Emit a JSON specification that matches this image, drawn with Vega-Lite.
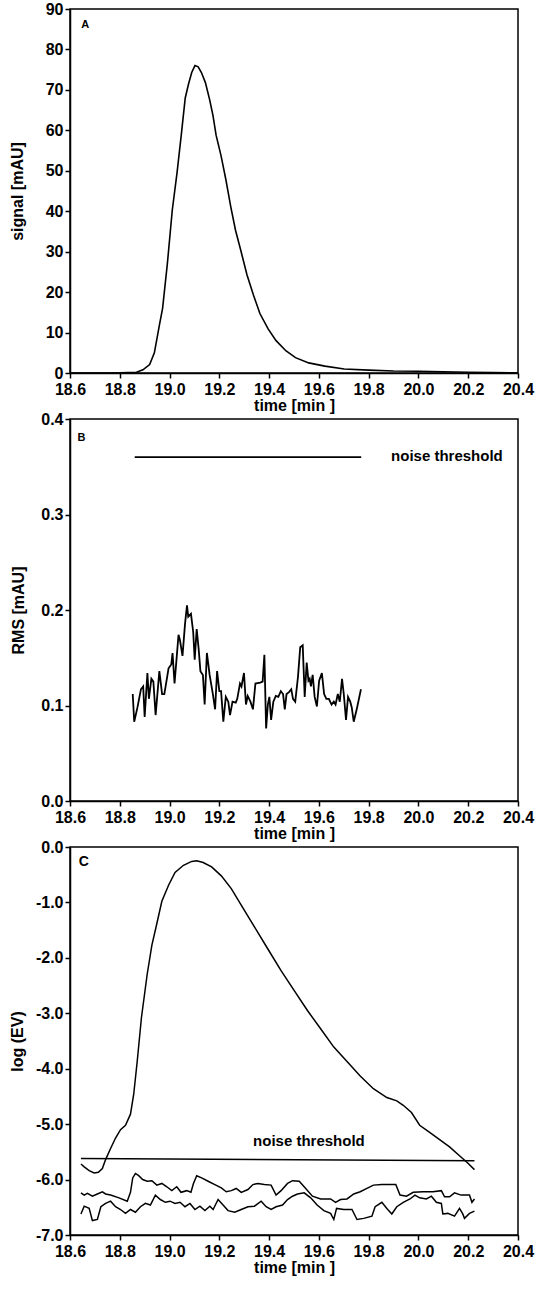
{
  "$schema": "https://vega.github.io/schema/vega-lite/v6.json",
  "padding": {"left": 8, "top": 0, "right": 2, "bottom": 2},
  "background": "white",
  "spacing": -4,
  "config": {
    "view": {"stroke": "black", "strokeWidth": 1.5},
    "axis": {
      "grid": false, "domainColor": "black", "domainWidth": 1.5, "tickColor": "black", "tickWidth": 1.5, "tickSize": 5,
      "labelColor": "black", "labelFont": "Liberation Sans", "labelFontSize": 16, "labelFontWeight": "bold",
      "labelOverlap": false, "labelFlush": false, "labelBound": false,
      "titleColor": "black", "titleFont": "Liberation Sans", "titleFontSize": 16, "titleFontWeight": "bold"
    },
    "axisX": {"labelPadding": 3, "titlePadding": 0},
    "axisY": {"labelPadding": 2},
    "line": {"color": "black", "strokeWidth": 1.5},
    "text": {"font": "Liberation Sans", "fontWeight": "bold", "color": "black"}
  },
  "datasets": {
    "chromA": [
      {"t": 18.6, "signal": 0}, {"t": 18.7, "signal": 0}, {"t": 18.8, "signal": 0.05}, {"t": 18.867, "signal": 0.2},
      {"t": 18.893, "signal": 0.8}, {"t": 18.92, "signal": 2.1}, {"t": 18.939, "signal": 5.0}, {"t": 18.959, "signal": 11.8},
      {"t": 18.972, "signal": 16.0}, {"t": 18.991, "signal": 26.9}, {"t": 19.011, "signal": 40.3}, {"t": 19.03, "signal": 49.5},
      {"t": 19.047, "signal": 58.8}, {"t": 19.063, "signal": 68.0}, {"t": 19.076, "signal": 71.4}, {"t": 19.089, "signal": 74.3},
      {"t": 19.102, "signal": 76.0}, {"t": 19.115, "signal": 75.7}, {"t": 19.128, "signal": 74.3}, {"t": 19.144, "signal": 71.8},
      {"t": 19.161, "signal": 67.6}, {"t": 19.174, "signal": 63.8}, {"t": 19.187, "signal": 58.8}, {"t": 19.207, "signal": 53.7},
      {"t": 19.226, "signal": 47.9}, {"t": 19.246, "signal": 41.1}, {"t": 19.265, "signal": 35.3}, {"t": 19.285, "signal": 30.6},
      {"t": 19.311, "signal": 24.3}, {"t": 19.337, "signal": 19.3}, {"t": 19.363, "signal": 14.7}, {"t": 19.396, "signal": 10.9},
      {"t": 19.428, "signal": 8.0}, {"t": 19.467, "signal": 5.5}, {"t": 19.506, "signal": 3.8}, {"t": 19.559, "signal": 2.5},
      {"t": 19.624, "signal": 1.7}, {"t": 19.702, "signal": 1.0}, {"t": 19.8, "signal": 0.7}, {"t": 19.9, "signal": 0.5},
      {"t": 20.0, "signal": 0.45}, {"t": 20.1, "signal": 0.3}, {"t": 20.2, "signal": 0.2}, {"t": 20.3, "signal": 0.1}, {"t": 20.4, "signal": 0.05}
    ],
    "rmsB": [
      {"t": 18.852, "v": 0.112, "s": "rms"}, {"t": 18.858, "v": 0.083, "s": "rms"}, {"t": 18.871, "v": 0.098, "s": "rms"}, {"t": 18.885, "v": 0.117, "s": "rms"},
      {"t": 18.894, "v": 0.120, "s": "rms"}, {"t": 18.900, "v": 0.088, "s": "rms"}, {"t": 18.911, "v": 0.134, "s": "rms"}, {"t": 18.917, "v": 0.107, "s": "rms"},
      {"t": 18.927, "v": 0.128, "s": "rms"}, {"t": 18.935, "v": 0.125, "s": "rms"}, {"t": 18.944, "v": 0.090, "s": "rms"}, {"t": 18.959, "v": 0.136, "s": "rms"},
      {"t": 18.970, "v": 0.112, "s": "rms"}, {"t": 18.979, "v": 0.112, "s": "rms"}, {"t": 18.996, "v": 0.139, "s": "rms"}, {"t": 19.007, "v": 0.143, "s": "rms"},
      {"t": 19.012, "v": 0.155, "s": "rms"}, {"t": 19.020, "v": 0.123, "s": "rms"}, {"t": 19.036, "v": 0.174, "s": "rms"}, {"t": 19.042, "v": 0.168, "s": "rms"},
      {"t": 19.052, "v": 0.152, "s": "rms"}, {"t": 19.062, "v": 0.185, "s": "rms"}, {"t": 19.070, "v": 0.205, "s": "rms"}, {"t": 19.075, "v": 0.193, "s": "rms"},
      {"t": 19.086, "v": 0.196, "s": "rms"}, {"t": 19.095, "v": 0.177, "s": "rms"}, {"t": 19.101, "v": 0.148, "s": "rms"}, {"t": 19.109, "v": 0.180, "s": "rms"},
      {"t": 19.117, "v": 0.159, "s": "rms"}, {"t": 19.124, "v": 0.136, "s": "rms"}, {"t": 19.134, "v": 0.132, "s": "rms"}, {"t": 19.141, "v": 0.101, "s": "rms"},
      {"t": 19.150, "v": 0.155, "s": "rms"}, {"t": 19.161, "v": 0.132, "s": "rms"}, {"t": 19.174, "v": 0.112, "s": "rms"}, {"t": 19.183, "v": 0.096, "s": "rms"},
      {"t": 19.191, "v": 0.136, "s": "rms"}, {"t": 19.200, "v": 0.115, "s": "rms"}, {"t": 19.207, "v": 0.115, "s": "rms"}, {"t": 19.216, "v": 0.083, "s": "rms"},
      {"t": 19.226, "v": 0.109, "s": "rms"}, {"t": 19.236, "v": 0.104, "s": "rms"}, {"t": 19.243, "v": 0.090, "s": "rms"}, {"t": 19.253, "v": 0.104, "s": "rms"},
      {"t": 19.266, "v": 0.103, "s": "rms"}, {"t": 19.272, "v": 0.107, "s": "rms"}, {"t": 19.283, "v": 0.123, "s": "rms"}, {"t": 19.289, "v": 0.120, "s": "rms"},
      {"t": 19.299, "v": 0.134, "s": "rms"}, {"t": 19.307, "v": 0.101, "s": "rms"}, {"t": 19.314, "v": 0.110, "s": "rms"}, {"t": 19.325, "v": 0.104, "s": "rms"},
      {"t": 19.335, "v": 0.096, "s": "rms"}, {"t": 19.345, "v": 0.123, "s": "rms"}, {"t": 19.364, "v": 0.124, "s": "rms"}, {"t": 19.374, "v": 0.125, "s": "rms"},
      {"t": 19.381, "v": 0.153, "s": "rms"}, {"t": 19.388, "v": 0.076, "s": "rms"}, {"t": 19.395, "v": 0.101, "s": "rms"}, {"t": 19.401, "v": 0.109, "s": "rms"},
      {"t": 19.408, "v": 0.085, "s": "rms"}, {"t": 19.417, "v": 0.104, "s": "rms"}, {"t": 19.427, "v": 0.110, "s": "rms"}, {"t": 19.437, "v": 0.109, "s": "rms"},
      {"t": 19.447, "v": 0.115, "s": "rms"}, {"t": 19.456, "v": 0.112, "s": "rms"}, {"t": 19.463, "v": 0.096, "s": "rms"}, {"t": 19.470, "v": 0.112, "s": "rms"},
      {"t": 19.480, "v": 0.114, "s": "rms"}, {"t": 19.489, "v": 0.117, "s": "rms"}, {"t": 19.496, "v": 0.107, "s": "rms"}, {"t": 19.505, "v": 0.104, "s": "rms"},
      {"t": 19.516, "v": 0.130, "s": "rms"}, {"t": 19.525, "v": 0.161, "s": "rms"}, {"t": 19.535, "v": 0.163, "s": "rms"}, {"t": 19.543, "v": 0.109, "s": "rms"},
      {"t": 19.551, "v": 0.145, "s": "rms"}, {"t": 19.558, "v": 0.126, "s": "rms"}, {"t": 19.563, "v": 0.128, "s": "rms"}, {"t": 19.568, "v": 0.120, "s": "rms"},
      {"t": 19.575, "v": 0.132, "s": "rms"}, {"t": 19.583, "v": 0.109, "s": "rms"}, {"t": 19.592, "v": 0.099, "s": "rms"}, {"t": 19.601, "v": 0.126, "s": "rms"},
      {"t": 19.612, "v": 0.134, "s": "rms"}, {"t": 19.621, "v": 0.112, "s": "rms"}, {"t": 19.630, "v": 0.107, "s": "rms"}, {"t": 19.640, "v": 0.107, "s": "rms"},
      {"t": 19.651, "v": 0.101, "s": "rms"}, {"t": 19.660, "v": 0.104, "s": "rms"}, {"t": 19.667, "v": 0.101, "s": "rms"}, {"t": 19.676, "v": 0.112, "s": "rms"},
      {"t": 19.684, "v": 0.104, "s": "rms"}, {"t": 19.693, "v": 0.128, "s": "rms"}, {"t": 19.700, "v": 0.112, "s": "rms"}, {"t": 19.709, "v": 0.085, "s": "rms"},
      {"t": 19.717, "v": 0.109, "s": "rms"}, {"t": 19.726, "v": 0.104, "s": "rms"}, {"t": 19.732, "v": 0.098, "s": "rms"}, {"t": 19.740, "v": 0.083, "s": "rms"},
      {"t": 19.752, "v": 0.096, "s": "rms"}, {"t": 19.769, "v": 0.117, "s": "rms"},
      {"t": 18.86, "v": 0.36, "s": "threshold"}, {"t": 19.77, "v": 0.36, "s": "threshold"}
    ],
    "logC": [
      {"t": 18.644, "v": -5.72, "s": "ev"}, {"t": 18.657, "v": -5.77, "s": "ev"}, {"t": 18.677, "v": -5.84, "s": "ev"}, {"t": 18.697, "v": -5.88, "s": "ev"},
      {"t": 18.714, "v": -5.87, "s": "ev"}, {"t": 18.730, "v": -5.80, "s": "ev"}, {"t": 18.743, "v": -5.64, "s": "ev"}, {"t": 18.763, "v": -5.44, "s": "ev"},
      {"t": 18.783, "v": -5.25, "s": "ev"}, {"t": 18.803, "v": -5.10, "s": "ev"}, {"t": 18.823, "v": -5.02, "s": "ev"}, {"t": 18.843, "v": -4.82, "s": "ev"},
      {"t": 18.856, "v": -4.46, "s": "ev"}, {"t": 18.870, "v": -3.87, "s": "ev"}, {"t": 18.887, "v": -3.08, "s": "ev"}, {"t": 18.910, "v": -2.30, "s": "ev"},
      {"t": 18.929, "v": -1.77, "s": "ev"}, {"t": 18.949, "v": -1.38, "s": "ev"}, {"t": 18.969, "v": -0.98, "s": "ev"}, {"t": 18.996, "v": -0.69, "s": "ev"},
      {"t": 19.022, "v": -0.46, "s": "ev"}, {"t": 19.056, "v": -0.33, "s": "ev"}, {"t": 19.089, "v": -0.26, "s": "ev"}, {"t": 19.109, "v": -0.25, "s": "ev"},
      {"t": 19.135, "v": -0.28, "s": "ev"}, {"t": 19.169, "v": -0.36, "s": "ev"}, {"t": 19.208, "v": -0.52, "s": "ev"}, {"t": 19.248, "v": -0.75, "s": "ev"},
      {"t": 19.288, "v": -1.05, "s": "ev"}, {"t": 19.341, "v": -1.44, "s": "ev"}, {"t": 19.395, "v": -1.84, "s": "ev"}, {"t": 19.448, "v": -2.23, "s": "ev"},
      {"t": 19.501, "v": -2.59, "s": "ev"}, {"t": 19.554, "v": -2.95, "s": "ev"}, {"t": 19.607, "v": -3.28, "s": "ev"}, {"t": 19.660, "v": -3.61, "s": "ev"},
      {"t": 19.713, "v": -3.87, "s": "ev"}, {"t": 19.766, "v": -4.13, "s": "ev"}, {"t": 19.819, "v": -4.36, "s": "ev"}, {"t": 19.873, "v": -4.52, "s": "ev"},
      {"t": 19.913, "v": -4.58, "s": "ev"}, {"t": 19.939, "v": -4.66, "s": "ev"}, {"t": 19.972, "v": -4.79, "s": "ev"}, {"t": 20.005, "v": -5.02, "s": "ev"},
      {"t": 20.045, "v": -5.15, "s": "ev"}, {"t": 20.085, "v": -5.28, "s": "ev"}, {"t": 20.125, "v": -5.41, "s": "ev"}, {"t": 20.165, "v": -5.57, "s": "ev"},
      {"t": 20.198, "v": -5.70, "s": "ev"}, {"t": 20.225, "v": -5.82, "s": "ev"},
      {"t": 18.644, "v": -5.62, "s": "threshold"}, {"t": 20.225, "v": -5.66, "s": "threshold"},
      {"t": 18.644, "v": -6.24, "s": "noise1"}, {"t": 18.657, "v": -6.28, "s": "noise1"}, {"t": 18.670, "v": -6.25, "s": "noise1"}, {"t": 18.690, "v": -6.30, "s": "noise1"},
      {"t": 18.710, "v": -6.26, "s": "noise1"}, {"t": 18.730, "v": -6.22, "s": "noise1"}, {"t": 18.743, "v": -6.26, "s": "noise1"}, {"t": 18.763, "v": -6.28, "s": "noise1"},
      {"t": 18.797, "v": -6.33, "s": "noise1"}, {"t": 18.830, "v": -6.39, "s": "noise1"}, {"t": 18.843, "v": -6.23, "s": "noise1"}, {"t": 18.852, "v": -5.97, "s": "noise1"},
      {"t": 18.863, "v": -5.89, "s": "noise1"}, {"t": 18.876, "v": -5.93, "s": "noise1"}, {"t": 18.892, "v": -6.00, "s": "noise1"}, {"t": 18.910, "v": -6.03, "s": "noise1"},
      {"t": 18.929, "v": -6.02, "s": "noise1"}, {"t": 18.949, "v": -6.10, "s": "noise1"}, {"t": 18.969, "v": -6.07, "s": "noise1"}, {"t": 18.989, "v": -6.13, "s": "noise1"},
      {"t": 19.009, "v": -6.20, "s": "noise1"}, {"t": 19.029, "v": -6.13, "s": "noise1"}, {"t": 19.046, "v": -6.23, "s": "noise1"}, {"t": 19.069, "v": -6.20, "s": "noise1"},
      {"t": 19.086, "v": -6.23, "s": "noise1"}, {"t": 19.096, "v": -6.07, "s": "noise1"}, {"t": 19.109, "v": -5.93, "s": "noise1"}, {"t": 19.129, "v": -5.97, "s": "noise1"},
      {"t": 19.155, "v": -6.03, "s": "noise1"}, {"t": 19.182, "v": -6.09, "s": "noise1"}, {"t": 19.208, "v": -6.15, "s": "noise1"}, {"t": 19.228, "v": -6.22, "s": "noise1"},
      {"t": 19.248, "v": -6.20, "s": "noise1"}, {"t": 19.268, "v": -6.16, "s": "noise1"}, {"t": 19.288, "v": -6.23, "s": "noise1"}, {"t": 19.315, "v": -6.18, "s": "noise1"},
      {"t": 19.335, "v": -6.09, "s": "noise1"}, {"t": 19.355, "v": -6.07, "s": "noise1"}, {"t": 19.381, "v": -6.09, "s": "noise1"}, {"t": 19.408, "v": -6.10, "s": "noise1"},
      {"t": 19.428, "v": -6.28, "s": "noise1"}, {"t": 19.448, "v": -6.20, "s": "noise1"}, {"t": 19.474, "v": -6.07, "s": "noise1"}, {"t": 19.494, "v": -6.02, "s": "noise1"},
      {"t": 19.521, "v": -6.03, "s": "noise1"}, {"t": 19.547, "v": -6.16, "s": "noise1"}, {"t": 19.574, "v": -6.30, "s": "noise1"}, {"t": 19.607, "v": -6.35, "s": "noise1"},
      {"t": 19.647, "v": -6.35, "s": "noise1"}, {"t": 19.667, "v": -6.41, "s": "noise1"}, {"t": 19.687, "v": -6.36, "s": "noise1"}, {"t": 19.713, "v": -6.35, "s": "noise1"},
      {"t": 19.740, "v": -6.26, "s": "noise1"}, {"t": 19.766, "v": -6.22, "s": "noise1"}, {"t": 19.793, "v": -6.16, "s": "noise1"}, {"t": 19.819, "v": -6.10, "s": "noise1"},
      {"t": 19.853, "v": -6.09, "s": "noise1"}, {"t": 19.886, "v": -6.09, "s": "noise1"}, {"t": 19.909, "v": -6.09, "s": "noise1"}, {"t": 19.926, "v": -6.28, "s": "noise1"},
      {"t": 19.952, "v": -6.30, "s": "noise1"}, {"t": 19.979, "v": -6.23, "s": "noise1"}, {"t": 20.019, "v": -6.22, "s": "noise1"}, {"t": 20.058, "v": -6.22, "s": "noise1"},
      {"t": 20.092, "v": -6.20, "s": "noise1"}, {"t": 20.105, "v": -6.31, "s": "noise1"}, {"t": 20.125, "v": -6.31, "s": "noise1"}, {"t": 20.145, "v": -6.24, "s": "noise1"},
      {"t": 20.171, "v": -6.28, "s": "noise1"}, {"t": 20.205, "v": -6.28, "s": "noise1"}, {"t": 20.215, "v": -6.41, "s": "noise1"}, {"t": 20.225, "v": -6.35, "s": "noise1"},
      {"t": 18.644, "v": -6.62, "s": "noise2"}, {"t": 18.657, "v": -6.48, "s": "noise2"}, {"t": 18.677, "v": -6.52, "s": "noise2"}, {"t": 18.690, "v": -6.74, "s": "noise2"},
      {"t": 18.710, "v": -6.72, "s": "noise2"}, {"t": 18.724, "v": -6.49, "s": "noise2"}, {"t": 18.743, "v": -6.43, "s": "noise2"}, {"t": 18.763, "v": -6.39, "s": "noise2"},
      {"t": 18.783, "v": -6.49, "s": "noise2"}, {"t": 18.803, "v": -6.54, "s": "noise2"}, {"t": 18.823, "v": -6.61, "s": "noise2"}, {"t": 18.843, "v": -6.54, "s": "noise2"},
      {"t": 18.863, "v": -6.59, "s": "noise2"}, {"t": 18.883, "v": -6.49, "s": "noise2"}, {"t": 18.903, "v": -6.43, "s": "noise2"}, {"t": 18.923, "v": -6.46, "s": "noise2"},
      {"t": 18.943, "v": -6.28, "s": "noise2"}, {"t": 18.963, "v": -6.36, "s": "noise2"}, {"t": 18.983, "v": -6.41, "s": "noise2"}, {"t": 19.002, "v": -6.39, "s": "noise2"},
      {"t": 19.022, "v": -6.43, "s": "noise2"}, {"t": 19.042, "v": -6.41, "s": "noise2"}, {"t": 19.062, "v": -6.49, "s": "noise2"}, {"t": 19.082, "v": -6.43, "s": "noise2"},
      {"t": 19.102, "v": -6.54, "s": "noise2"}, {"t": 19.122, "v": -6.48, "s": "noise2"}, {"t": 19.142, "v": -6.56, "s": "noise2"}, {"t": 19.162, "v": -6.48, "s": "noise2"},
      {"t": 19.175, "v": -6.54, "s": "noise2"}, {"t": 19.195, "v": -6.36, "s": "noise2"}, {"t": 19.215, "v": -6.46, "s": "noise2"}, {"t": 19.235, "v": -6.56, "s": "noise2"},
      {"t": 19.262, "v": -6.59, "s": "noise2"}, {"t": 19.288, "v": -6.54, "s": "noise2"}, {"t": 19.315, "v": -6.49, "s": "noise2"}, {"t": 19.341, "v": -6.48, "s": "noise2"},
      {"t": 19.368, "v": -6.39, "s": "noise2"}, {"t": 19.388, "v": -6.49, "s": "noise2"}, {"t": 19.408, "v": -6.54, "s": "noise2"}, {"t": 19.428, "v": -6.49, "s": "noise2"},
      {"t": 19.454, "v": -6.46, "s": "noise2"}, {"t": 19.474, "v": -6.36, "s": "noise2"}, {"t": 19.494, "v": -6.30, "s": "noise2"}, {"t": 19.514, "v": -6.26, "s": "noise2"},
      {"t": 19.541, "v": -6.24, "s": "noise2"}, {"t": 19.567, "v": -6.33, "s": "noise2"}, {"t": 19.593, "v": -6.46, "s": "noise2"}, {"t": 19.620, "v": -6.56, "s": "noise2"},
      {"t": 19.647, "v": -6.61, "s": "noise2"}, {"t": 19.660, "v": -6.72, "s": "noise2"}, {"t": 19.671, "v": -6.52, "s": "noise2"}, {"t": 19.700, "v": -6.54, "s": "noise2"},
      {"t": 19.733, "v": -6.54, "s": "noise2"}, {"t": 19.753, "v": -6.72, "s": "noise2"}, {"t": 19.780, "v": -6.70, "s": "noise2"}, {"t": 19.813, "v": -6.66, "s": "noise2"},
      {"t": 19.826, "v": -6.49, "s": "noise2"}, {"t": 19.853, "v": -6.41, "s": "noise2"}, {"t": 19.873, "v": -6.52, "s": "noise2"}, {"t": 19.893, "v": -6.62, "s": "noise2"},
      {"t": 19.913, "v": -6.49, "s": "noise2"}, {"t": 19.939, "v": -6.41, "s": "noise2"}, {"t": 19.966, "v": -6.35, "s": "noise2"}, {"t": 19.986, "v": -6.28, "s": "noise2"},
      {"t": 20.005, "v": -6.33, "s": "noise2"}, {"t": 20.032, "v": -6.35, "s": "noise2"}, {"t": 20.052, "v": -6.30, "s": "noise2"}, {"t": 20.072, "v": -6.41, "s": "noise2"},
      {"t": 20.092, "v": -6.43, "s": "noise2"}, {"t": 20.098, "v": -6.62, "s": "noise2"}, {"t": 20.118, "v": -6.61, "s": "noise2"}, {"t": 20.145, "v": -6.66, "s": "noise2"},
      {"t": 20.165, "v": -6.52, "s": "noise2"}, {"t": 20.178, "v": -6.62, "s": "noise2"}, {"t": 20.185, "v": -6.70, "s": "noise2"}, {"t": 20.205, "v": -6.61, "s": "noise2"},
      {"t": 20.225, "v": -6.57, "s": "noise2"}
    ]
  },
  "vconcat": [
    {
      "width": 448, "height": 364,
      "layer": [
        {
          "data": {"name": "chromA"},
          "mark": {"type": "line", "strokeWidth": 1.6},
          "encoding": {
            "x": {"field": "t", "type": "quantitative", "scale": {"domain": [18.6, 20.4], "nice": false, "zero": false},
                  "axis": {"values": [18.6, 18.8, 19.0, 19.2, 19.4, 19.6, 19.8, 20.0, 20.2, 20.4], "format": ".1f", "title": "time [min ]"}},
            "y": {"field": "signal", "type": "quantitative", "scale": {"domain": [0, 90], "nice": false},
                  "axis": {"values": [0, 10, 20, 30, 40, 50, 60, 70, 80, 90], "format": "d", "title": "signal [mAU]", "titlePadding": 20}}
          }
        },
        {
          "data": {"values": [{}]},
          "mark": {"type": "text", "text": "A", "align": "left", "baseline": "middle", "fontSize": 11},
          "encoding": {"x": {"datum": 18.645, "type": "quantitative"}, "y": {"datum": 86, "type": "quantitative"}}
        }
      ]
    },
    {
      "width": 448, "height": 382,
      "layer": [
        {
          "data": {"name": "rmsB"},
          "mark": {"type": "line", "strokeWidth": 1.8},
          "encoding": {
            "x": {"field": "t", "type": "quantitative", "scale": {"domain": [18.6, 20.4], "nice": false, "zero": false},
                  "axis": {"values": [18.6, 18.8, 19.0, 19.2, 19.4, 19.6, 19.8, 20.0, 20.2, 20.4], "format": ".1f", "title": "time [min ]"}},
            "y": {"field": "v", "type": "quantitative", "scale": {"domain": [0, 0.4], "nice": false},
                  "axis": {"values": [0, 0.1, 0.2, 0.3, 0.4], "format": ".1f", "title": "RMS [mAU]", "titlePadding": 14}},
            "detail": {"field": "s", "type": "nominal"}
          }
        },
        {
          "data": {"values": [{}]},
          "mark": {"type": "text", "text": "B", "align": "left", "baseline": "middle", "fontSize": 11},
          "encoding": {"x": {"datum": 18.63, "type": "quantitative"}, "y": {"datum": 0.38, "type": "quantitative"}}
        },
        {
          "data": {"values": [{}]},
          "mark": {"type": "text", "text": "noise threshold", "align": "left", "baseline": "middle", "fontSize": 15},
          "encoding": {"x": {"datum": 19.89, "type": "quantitative"}, "y": {"datum": 0.361, "type": "quantitative"}}
        }
      ]
    },
    {
      "width": 448, "height": 388,
      "layer": [
        {
          "data": {"name": "logC"},
          "mark": {"type": "line", "strokeWidth": 1.5},
          "encoding": {
            "x": {"field": "t", "type": "quantitative", "scale": {"domain": [18.6, 20.4], "nice": false, "zero": false},
                  "axis": {"values": [18.6, 18.8, 19.0, 19.2, 19.4, 19.6, 19.8, 20.0, 20.2, 20.4], "format": ".1f", "title": "time [min ]"}},
            "y": {"field": "v", "type": "quantitative", "scale": {"domain": [-7, 0], "nice": false, "zero": false},
                  "axis": {"values": [0, -1, -2, -3, -4, -5, -6, -7], "labelExpr": "datum.value < 0 ? '-' + format(-datum.value, '.1f') : format(datum.value, '.1f')", "title": "log (EV)", "titlePadding": 10}},
            "detail": {"field": "s", "type": "nominal"}
          }
        },
        {
          "data": {"values": [{}]},
          "mark": {"type": "text", "text": "C", "align": "left", "baseline": "middle", "fontSize": 14},
          "encoding": {"x": {"datum": 18.635, "type": "quantitative"}, "y": {"datum": -0.27, "type": "quantitative"}}
        },
        {
          "data": {"values": [{}]},
          "mark": {"type": "text", "text": "noise threshold", "align": "center", "baseline": "middle", "fontSize": 15},
          "encoding": {"x": {"datum": 19.56, "type": "quantitative"}, "y": {"datum": -5.3, "type": "quantitative"}}
        }
      ]
    }
  ]
}
